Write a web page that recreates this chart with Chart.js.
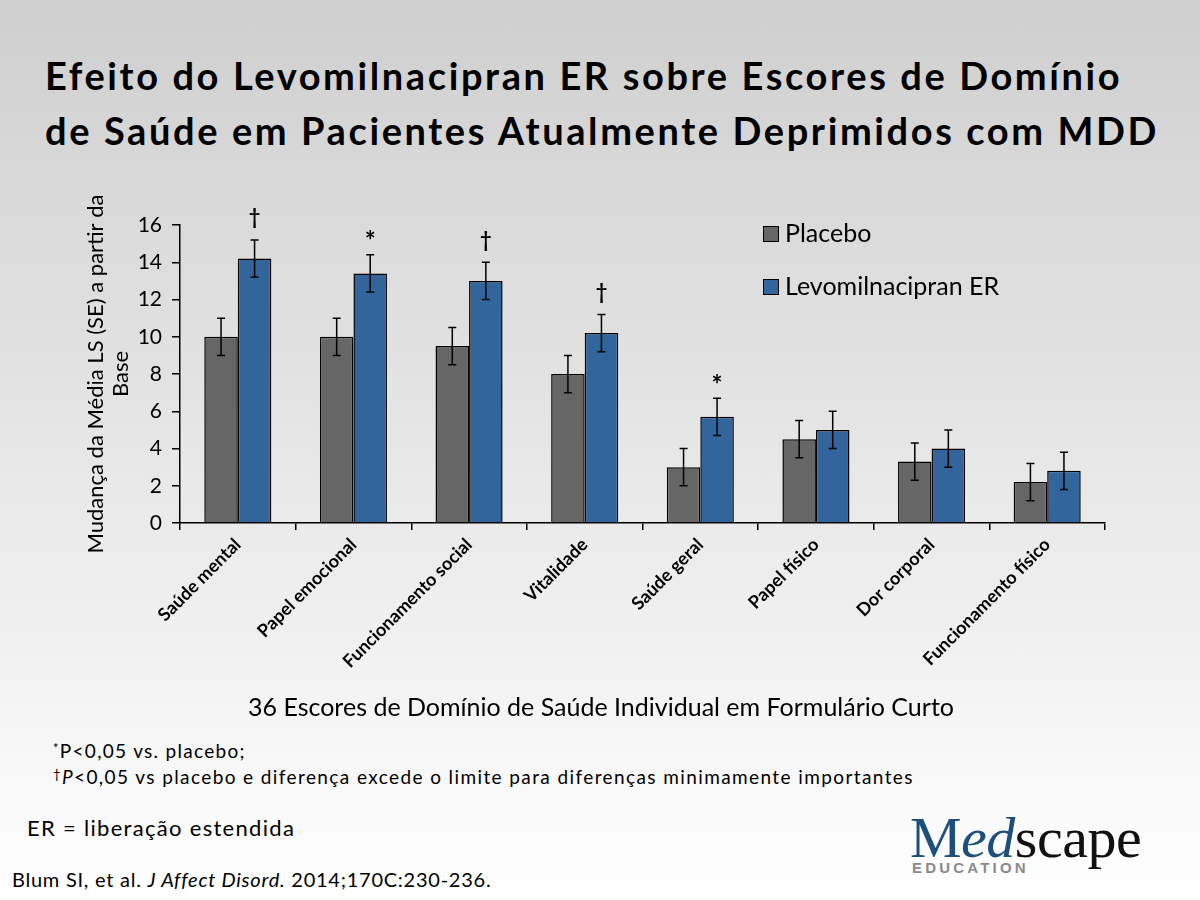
<!DOCTYPE html>
<html>
<head>
<meta charset="utf-8">
<script src="https://cdn.jsdelivr.net/npm/chart.js@4.4.1/dist/chart.umd.min.js"></script>
<style>
  html, body { margin: 0; padding: 0; }
  body {
    width: 1200px; height: 900px; position: relative; overflow: hidden;
    background: linear-gradient(to bottom, #cfcfcf 0%, #e4e4e4 45%, #ffffff 100%);
    font-family: Lato, "Open Sans", sans-serif; color: #000;
  }
  .title {
    position: absolute; left: 45px; top: 48px; margin: 0;
    font-size: 38px; font-weight: 700; line-height: 55px; letter-spacing: 2.6px; white-space: nowrap;
  }
  #chartBox { position: absolute; left: 0; top: 190px; width: 1200px; height: 530px; }
  .note { position: absolute; white-space: nowrap; line-height: 1; }
  .logo { position: absolute; left: 910px; top: 812px; width: 250px; height: 70px; }
  .logo .word { position: absolute; left: 0; top: -2px; font-family: "Liberation Serif", serif; font-size: 58px; line-height: 56px; letter-spacing: -0.5px; }
  .logo .word .m { color: #1c4f7c; }
  .logo .word .s { color: #111; }
  .logo .edu { position: absolute; left: 2px; top: 47px; font-family: "Liberation Sans", sans-serif; font-weight: 700; font-size: 15px; color: #8a8a8a; letter-spacing: 3.2px; }
</style>
</head>
<body>
<div class="title">Efeito do Levomilnacipran ER sobre Escores de Domínio<br>de Saúde em Pacientes Atualmente Deprimidos com MDD</div>

<div id="chartBox"><canvas id="healthChart" width="1200" height="530"></canvas></div>

<div class="note" style="left:0; width:1202px; text-align:center; top:694px; font-size:25px;">36 Escores de Domínio de Saúde Individual em Formulário Curto</div>
<div class="note" style="left:53px; top:741px; font-size:19px; letter-spacing:1.3px;"><span style="font-size:13px; vertical-align:5px;">*</span>P&lt;0,05 vs. placebo;</div>
<div class="note" style="left:53px; top:767px; font-size:19px; letter-spacing:1.4px;"><span style="font-size:13px; vertical-align:5px;">†</span><i>P</i>&lt;0,05 vs placebo e diferença excede o limite para diferenças minimamente importantes</div>
<div class="note" style="left:27px; top:817px; font-size:22px; letter-spacing:1.3px;">ER = liberação estendida</div>
<div class="note" style="left:12px; top:869px; font-size:20px; letter-spacing:0.75px;">Blum SI, et al. <i>J Affect Disord.</i> 2014;170C:230-236.</div>

<div class="logo">
  <div class="word"><span class="m">M<i>ed</i></span><span class="s">scape</span></div>
  <div class="edu">EDUCATION</div>
</div>

<script>
// SF-36 domains, LS mean change from baseline (SE)
const domains = ['Saúde mental', 'Papel emocional', 'Funcionamento social', 'Vitalidade',
  'Saúde geral', 'Papel físico', 'Dor corporal', 'Funcionamento físico'];
const placebo = [10.0, 10.0, 9.5, 8.0, 3.0, 4.5, 3.3, 2.2];
const placeboSE = [1.0, 1.0, 1.0, 1.0, 1.0, 1.0, 1.0, 1.0];
const levo = [14.2, 13.4, 13.0, 10.2, 5.7, 5.0, 4.0, 2.8];
const levoSE = [1.0, 1.0, 1.0, 1.0, 1.0, 1.0, 1.0, 1.0];
const marks = ['†', '*', '†', '†', '*', '', '', ''];
const yTicks = [0, 2, 4, 6, 8, 10, 12, 14, 16];

const errors = [placeboSE, levoSE];

const errorBars = {
  id: 'errorBars',
  afterDatasetsDraw(chart) {
    const ctx = chart.ctx;
    const y = chart.scales.y;
    ctx.save();
    ctx.strokeStyle = '#000';
    ctx.lineWidth = 1.5;
    chart.data.datasets.forEach((ds, i) => {
      const meta = chart.getDatasetMeta(i);
      meta.data.forEach((bar, j) => {
        const top = y.getPixelForValue(ds.data[j] + errors[i][j]);
        const bot = y.getPixelForValue(ds.data[j] - errors[i][j]);
        ctx.beginPath();
        ctx.moveTo(bar.x, top); ctx.lineTo(bar.x, bot);
        ctx.moveTo(bar.x - 4, top); ctx.lineTo(bar.x + 4, top);
        ctx.moveTo(bar.x - 4, bot); ctx.lineTo(bar.x + 4, bot);
        ctx.stroke();
        if (i === 1 && marks[j]) {
          ctx.fillStyle = '#000';
          ctx.textAlign = 'center';
          ctx.textBaseline = 'middle';
          if (marks[j] === '*') {
            ctx.font = 'bold 26px Lato';
            ctx.fillText(marks[j], bar.x, top - 13);
          } else {
            ctx.font = 'bold 20px Lato';
            ctx.fillText(marks[j], bar.x, top - 22);
          }
        }
      });
    });
    ctx.restore();
  }
};

// legend sits inside the plot, upper right
const boxLegend = {
  id: 'boxLegend',
  afterDraw(chart) {
    const ctx = chart.ctx;
    const area = chart.chartArea;
    const x = area.left + 583;
    ctx.save();
    chart.data.datasets.forEach((ds, i) => {
      const cy = area.top + 9 + i * 53;
      ctx.fillStyle = ds.backgroundColor;
      ctx.fillRect(x, cy - 8, 16, 16);
      ctx.strokeStyle = '#000';
      ctx.lineWidth = 1;
      ctx.strokeRect(x + 0.5, cy - 7.5, 15, 15);
      ctx.fillStyle = '#000';
      ctx.font = '25px Lato';
      ctx.textAlign = 'left';
      ctx.textBaseline = 'middle';
      ctx.fillText(ds.label, x + 22, cy);
    });
    ctx.restore();
  }
};

new Chart(document.getElementById('healthChart'), {
  type: 'bar',
  data: {
    labels: domains,
    datasets: [
      { label: 'Placebo', data: placebo, backgroundColor: '#666666', borderColor: '#000', borderWidth: 1.5 },
      { label: 'Levomilnacipran ER', data: levo, backgroundColor: '#32659c', borderColor: '#000', borderWidth: 1.5 }
    ]
  },
  options: {
    responsive: false,
    animation: false,
    devicePixelRatio: 1,
    categoryPercentage: 0.58,
    barPercentage: 1.0,
    layout: { padding: { left: 80, right: 95, top: 35, bottom: 0 } },
    plugins: { legend: { display: false }, tooltip: { enabled: false } },
    scales: {
      y: {
        min: 0, max: 16,
        afterBuildTicks: s => { s.ticks = yTicks.map(v => ({ value: v })); },
        afterFit: s => { s.width = 100; },
        ticks: { color: '#000', font: { family: 'Lato', size: 21 }, padding: 10 },
        grid: { drawOnChartArea: false, drawTicks: true, tickLength: 8, color: '#000', lineWidth: 1.5 },
        border: { display: true, color: '#000', width: 1.5 },
        title: {
          display: true,
          text: ['Mudança da Média LS (SE) a partir da', 'Base'],
          color: '#000',
          font: { family: 'Lato', size: 22, lineHeight: 1.14 },
          padding: { top: 3, bottom: 0 }
        }
      },
      x: {
        afterFit: s => { s.height = 197; },
        ticks: { color: '#000', font: { family: 'Lato', size: 18, weight: 'bold' }, maxRotation: 45, minRotation: 45, padding: 4 },
        grid: { drawOnChartArea: false, drawTicks: true, tickLength: 7, color: '#000', lineWidth: 1.5 },
        border: { display: true, color: '#000', width: 1.5 }
      }
    }
  },
  plugins: [errorBars, boxLegend]
});
</script>
</body>
</html>
